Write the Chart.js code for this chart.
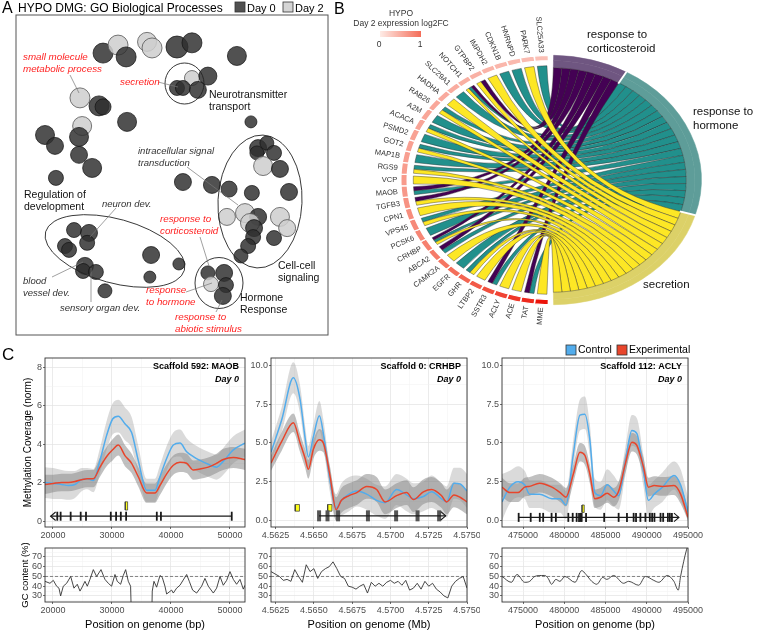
<!DOCTYPE html>
<html lang="en">
<head>
<meta charset="UTF-8">
<title>HYPO DMG: GO terms, gene chord and methylation coverage</title>
<script src="https://cdn.jsdelivr.net/npm/chart.js@4.4.1/dist/chart.umd.min.js"></script>
<style>
  html, body { margin: 0; padding: 0; background: #fff; }
  #page { position: relative; width: 757px; height: 632px; overflow: hidden; }
  #page canvas { position: absolute; }
</style>
</head>
<body>
<div id="page">
  <canvas id="goA" width="330" height="340" style="left:0;top:0"></canvas>
  <canvas id="chordB" width="427" height="340" style="left:330px;top:0"></canvas>
  <canvas id="covMaob" width="250" height="210" style="left:0;top:336px"></canvas>
  <canvas id="covCrhbp" width="230" height="210" style="left:250px;top:336px"></canvas>
  <canvas id="covAcly" width="277" height="210" style="left:480px;top:336px"></canvas>
  <canvas id="gcMaob" width="250" height="94" style="left:0;top:538px"></canvas>
  <canvas id="gcCrhbp" width="230" height="94" style="left:250px;top:538px"></canvas>
  <canvas id="gcAcly" width="277" height="94" style="left:480px;top:538px"></canvas>
</div>
<script>
// ---------- panel A : GO terms in semantic space (both axes 0-100)
const bubbleX = [27.9, 32.7, 35.3, 42.0, 43.6, 51.6, 56.4, 70.8, 56.4, 61.5, 51.6, 53.5, 58.3,
  20.5, 26.6, 27.9, 35.6, 75.3, 21.2, 20.2, 9.3, 12.5, 20.2, 24.4, 12.8, 53.5, 62.8,
  77.6, 80.4, 77.2, 82.7, 79.2, 84.6, 68.3, 75.6, 87.5, 67.6, 73.4, 77.6, 75.0, 84.6, 86.9, 76.3, 76.0, 82.7, 74.4, 72.1,
  18.6, 23.4, 22.8, 15.7, 17.0, 22.1, 21.5, 25.6, 43.3, 52.2, 42.9, 28.5,
  61.5, 66.7, 62.5, 67.3, 66.3];
const bubbleY = [88.1, 90.6, 86.9, 91.6, 89.7, 90.0, 91.3, 87.2, 80.3, 80.9, 77.2, 77.2, 76.6,
  74.1, 71.6, 71.3, 66.6, 66.6, 65.3, 61.9, 62.5, 59.1, 56.3, 52.2, 49.1, 47.8, 46.9,
  58.4, 60.0, 56.9, 56.9, 52.8, 51.9, 45.6, 44.4, 44.7, 36.9, 38.1, 36.9, 35.0, 36.9, 33.4, 33.4, 30.6, 30.3, 27.8, 24.7,
  32.8, 31.9, 28.8, 27.8, 26.6, 21.6, 20.0, 19.7, 25.0, 22.2, 18.1, 13.8,
  19.4, 19.4, 15.9, 15.6, 12.2];
const bubbleR = [10, 10, 10, 9.5, 10, 11, 10, 9.5, 7.5, 9, 7.5, 7.5, 8.5,
  10, 10, 8, 9.5, 6, 9.5, 9.5, 9.5, 8.5, 8.5, 9.5, 7.5, 8.5, 8.5,
  8.5, 7, 7, 7.5, 9.5, 8.5, 8, 7.5, 8.5, 8.5, 9.5, 8.5, 9.5, 9.5, 8.5, 8.5, 7.5, 7.5, 7.5, 7,
  7.5, 8.5, 7.5, 7.5, 7.5, 8.5, 7.5, 7.5, 8.5, 6, 6, 7,
  7, 8.5, 7.5, 7.5, 8.5];
const bubbleDay = [0, 2, 0, 2, 2, 0, 0, 0, 2, 0, 0, 0, 0,
  2, 0, 0, 0, 0, 2, 0, 0, 0, 0, 0, 0, 0, 0,
  0, 0, 0, 0, 2, 0, 0, 0, 0, 2, 2, 0, 2, 2, 2, 0, 0, 0, 0, 0,
  0, 0, 0, 0, 0, 0, 0, 0, 0, 0, 0, 0,
  0, 0, 2, 0, 0];

// ---------- panel B : genes (top to bottom) and their GO terms
const chordGenes = ['SLC25A33', 'PARK7', 'HNRNPD', 'CDKN1B', 'IMPDH2', 'GTPBP2', 'NOTCH1', 'SLC29A1', 'HADHA', 'RAB26',
  'A2M', 'ACACA', 'PSMD2', 'GOT2', 'MAP1B', 'RGS9', 'VCP', 'MAOB', 'TGFB3', 'CPN1', 'VPS45', 'PCSK6', 'CRHBP',
  'ABCA2', 'CAMK2A', 'EGFR', 'GHR', 'LTBP2', 'SSTR3', 'ACLY', 'ACE', 'TAT', 'MME'];
const chordLog2FC = [0.35, 0.38, 0.40, 0.42, 0.44, 0.46, 0.48, 0.50, 0.52, 0.54, 0.55, 0.56, 0.58, 0.60, 0.61, 0.62,
  0.64, 0.66, 0.70, 0.74, 0.77, 0.80, 0.84, 0.88, 0.93, 0.98, 1.05, 1.12, 1.20, 1.28, 1.36, 1.45, 1.60];
const chordMembership = ['H', 'S', 'H', 'H', 'S', 'CS', 'CHS', 'H', 'S', 'HS', 'H', 'HS', 'H', 'HS', 'H', 'HS', 'S',
  'CH', 'CS', 'S', 'HS', 'H', 'CHS', 'CH', 'S', 'H', 'HS', 'S', 'CH', 'S', 'S', 'CH', 'S'];
const chordTerms = ['response to corticosteroid', 'response to hormone', 'secretion'];
const chordTermCode = ['C', 'H', 'S'];

// ---------- panel C : scaffold 592 / MAOB (bp)
const maobPos = [18650, 20060, 21470, 22600, 23730, 24860, 25820, 26840, 27970, 29100, 30110, 31070, 32200, 33330, 34460,
  35880, 37290, 38140, 39270, 40400, 41530, 42660, 43790, 44920, 46330, 47740, 48870, 50570, 52550];
const maobCtrl = [2.0, 1.95, 1.9, 1.85, 1.9, 2.15, 2.2, 2.1, 3.15, 4.45, 5.3, 5.45, 5.05, 4.6, 3.15, 1.6, 1.6, 2.3, 3.25,
  3.95, 4.05, 3.6, 3.35, 3.15, 2.95, 2.8, 3.1, 3.7, 4.05];
const maobCtrlHi = [2.8, 2.75, 2.65, 2.6, 2.6, 2.75, 2.75, 2.7, 3.8, 5.2, 6.1, 6.3, 5.9, 5.4, 3.9, 2.2, 2.2, 2.9, 3.9, 4.6,
  4.75, 4.3, 4.0, 3.8, 3.6, 3.45, 3.8, 4.4, 4.75];
const maobCtrlLo = [1.2, 1.15, 1.15, 1.1, 1.2, 1.55, 1.65, 1.5, 2.5, 3.7, 4.5, 4.6, 4.2, 3.8, 2.4, 1.0, 1.0, 1.7, 2.6, 3.3,
  3.35, 2.9, 2.7, 2.5, 2.3, 2.15, 2.4, 3.0, 3.35];
const maobExp = [1.9, 1.95, 2.0, 2.0, 2.05, 2.15, 2.2, 2.2, 2.8, 3.35, 3.7, 3.95, 3.4, 3.0, 2.3, 1.45, 1.45, 1.85, 2.45, 2.9,
  3.05, 3.0, 2.65, 2.7, 2.8, 3.0, 3.2, 3.3, 3.2];
const maobExpHi = [2.4, 2.4, 2.45, 2.45, 2.5, 2.6, 2.65, 2.65, 3.3, 3.85, 4.25, 4.5, 3.95, 3.5, 2.8, 1.95, 1.95, 2.35, 2.95,
  3.4, 3.55, 3.5, 3.15, 3.2, 3.3, 3.5, 3.75, 3.85, 3.75];
const maobExpLo = [1.4, 1.5, 1.55, 1.55, 1.6, 1.7, 1.75, 1.75, 2.3, 2.85, 3.15, 3.4, 2.85, 2.5, 1.8, 0.95, 0.95, 1.35, 1.95,
  2.4, 2.55, 2.5, 2.15, 2.2, 2.3, 2.5, 2.65, 2.75, 2.65];
const maobGene = [19600, 50300];
const maobStrand = -1;
const maobExons = [20730, 21300, 23000, 24700, 25600, 29800, 30700, 31500, 32400, 37600, 38300, 50300];
const maobDmr = [[32250, 32650]];
const maobGcPos = [18650, 19490, 20060, 20620, 21020, 21300, 21750, 22320, 23000, 23560, 24120, 24580, 25030, 25420, 25820,
  26270, 26840, 27400, 28140, 28810, 29380, 29940, 30510, 30900, 31470, 31920, 32320, 32770, 33160, 33330, 36720, 36830,
  37120, 37570, 38140, 38530, 38980, 39270, 40110, 40400, 40960, 41530, 42660, 43110, 43670, 44350, 45200, 45760, 46330,
  47180, 47740, 48310, 48870, 49440, 50000, 50570, 51130, 51700, 52260, 52550];
const maobGc = [45, 43, 46, 40, 38, 30, 40, 43, 50, 38, 42, 35, 40, 45, 40, 47, 57, 50, 57, 47, 43, 40, 52, 45, 42, 51, 57,
  45, 40, 0, 0, 35, 45, 39, 51, 49, 40, 32, 36, 33, 38, 41, 52, 45, 36, 33, 40, 48, 40, 33, 38, 50, 41, 46, 55, 47, 42, 47,
  37, 41];

// ---------- panel C : scaffold 0 / CRHBP (Mb)
const crhbpPos = [4.5622, 4.5629, 4.56366, 4.5641, 4.56443, 4.56464, 4.56497, 4.56536, 4.56562, 4.56605, 4.56645, 4.5668,
  4.5673, 4.5678, 4.56845, 4.5691, 4.56965, 4.5704, 4.57106, 4.5715, 4.57215, 4.57269, 4.57334, 4.57367, 4.57415, 4.57455,
  4.5750];
const crhbpCtrl = [4.4, 6.5, 9.2, 7.8, 5.3, 4.1, 5.4, 6.75, 5.6, 2.6, 0.8, 1.3, 1.7, 1.9, 1.7, 1.3, 1.15, 2.0, 1.65, 1.4,
  1.55, 1.85, 1.4, 1.2, 2.4, 2.35, 1.9];
const crhbpCtrlHi = [5.1, 7.3, 10.2, 8.7, 6.1, 4.8, 6.2, 7.7, 6.5, 3.4, 1.7, 2.4, 2.8, 2.9, 2.7, 2.3, 2.2, 3.0, 2.7, 2.4,
  2.5, 2.9, 2.4, 2.2, 3.4, 3.4, 3.0];
const crhbpCtrlLo = [3.7, 5.7, 8.2, 6.9, 4.5, 3.4, 4.6, 5.8, 4.7, 1.8, 0.0, 0.3, 0.6, 0.9, 0.7, 0.3, 0.1, 1.0, 0.6, 0.4,
  0.6, 0.8, 0.4, 0.2, 1.4, 1.3, 0.8];
const crhbpExp = [3.7, 5.1, 6.3, 5.0, 4.0, 3.3, 4.6, 5.2, 5.0, 2.9, 0.7, 1.3, 1.6, 1.8, 2.2, 2.0, 1.2, 1.6, 1.8, 1.35,
  1.85, 2.0, 1.6, 1.2, 1.65, 1.5, 1.2];
const crhbpExpHi = [4.2, 5.7, 6.9, 5.6, 4.6, 3.9, 5.2, 5.9, 5.6, 3.5, 1.5, 2.1, 2.4, 2.6, 3.0, 2.8, 2.0, 2.4, 2.6, 2.15,
  2.65, 2.8, 2.4, 2.0, 2.45, 2.3, 2.0];
const crhbpExpLo = [3.2, 4.5, 5.7, 4.4, 3.4, 2.7, 4.0, 4.5, 4.4, 2.3, 0.0, 0.5, 0.8, 1.0, 1.4, 1.2, 0.4, 0.8, 1.0, 0.55,
  1.05, 1.2, 0.8, 0.4, 0.85, 0.7, 0.4];
const crhbpGene = [4.56534, 4.57361];
const crhbpStrand = 1;
const crhbpExons = [4.56534, 4.56589, 4.56658, 4.56853, 4.57037, 4.57177, 4.57318];
const crhbpDmr = [[4.56378, 4.56406], [4.56590, 4.56618]];
const crhbpGcPos = [4.5622, 4.56275, 4.563, 4.56325, 4.5635, 4.56375, 4.564, 4.56425, 4.5645, 4.56475, 4.565, 4.56525,
  4.5655, 4.56575, 4.566, 4.56625, 4.5665, 4.56675, 4.567, 4.56725, 4.5675, 4.56775, 4.568, 4.56825, 4.5685, 4.56875,
  4.569, 4.56925, 4.5695, 4.56975, 4.57, 4.57025, 4.5705, 4.57075, 4.571, 4.57125, 4.5715, 4.57175, 4.572, 4.57225,
  4.5725, 4.57275, 4.573, 4.57325, 4.5735, 4.57375, 4.574, 4.57425, 4.5745, 4.57475, 4.575];
const crhbpGc = [55, 50, 46, 47, 45, 57, 50, 44, 62, 55, 58, 48, 55, 58, 60, 65, 58, 50, 48, 40, 39, 37, 40, 42, 33, 44,
  40, 43, 40, 44, 46, 43, 45, 41, 46, 36, 38, 43, 37, 45, 40, 43, 37, 34, 30, 28, 40, 45, 48, 50, 38];

// ---------- panel C : scaffold 112 / ACLY (bp)
const aclyPos = [472450, 473400, 474400, 475200, 475800, 477000, 478500, 479500, 480200, 481100, 481900, 482500, 483100,
  483700, 484400, 485200, 486000, 486600, 487400, 488200, 488800, 489600, 490200, 490900, 491900, 493300, 494100, 495000];
const aclyCtrl = [1.2, 2.15, 2.5, 2.3, 1.7, 1.7, 1.4, 1.4, 1.0, 4.3, 6.8, 6.85, 5.2, 1.8, 1.6, 2.3, 1.9, 1.6, 3.8, 5.8,
  5.6, 3.2, 1.3, 1.7, 2.15, 2.9, 2.3, 0.55];
const aclyCtrlHi = [3.0, 3.2, 3.5, 3.2, 2.6, 2.6, 2.3, 2.3, 1.9, 5.2, 7.8, 8.0, 6.2, 2.7, 2.5, 3.3, 2.9, 2.5, 4.7, 6.8,
  6.6, 4.2, 2.3, 2.6, 3.1, 3.8, 3.3, 1.5];
const aclyCtrlLo = [0.0, 1.1, 1.5, 1.4, 0.8, 0.8, 0.5, 0.5, 0.1, 3.4, 5.8, 5.9, 4.2, 0.9, 0.7, 1.3, 0.9, 0.7, 2.9, 4.8,
  4.6, 2.2, 0.3, 0.8, 1.2, 2.0, 1.3, 0.0];
const aclyExp = [2.15, 1.8, 1.8, 2.15, 2.2, 2.4, 2.15, 1.8, 1.5, 3.0, 4.4, 4.2, 3.0, 1.4, 1.5, 1.75, 1.5, 1.9, 3.65, 5.05,
  4.85, 3.45, 2.15, 2.25, 2.2, 2.25, 1.7, 0.2];
const aclyExpHi = [2.75, 2.4, 2.4, 2.75, 2.8, 3.0, 2.75, 2.4, 2.1, 3.6, 5.0, 4.8, 3.6, 2.0, 2.1, 2.35, 2.1, 2.5, 4.25,
  5.65, 5.45, 4.05, 2.75, 2.85, 2.8, 2.85, 2.3, 0.8];
const aclyExpLo = [1.55, 1.2, 1.2, 1.55, 1.6, 1.8, 1.55, 1.2, 0.9, 2.4, 3.8, 3.6, 2.4, 0.8, 0.9, 1.15, 0.9, 1.3, 3.05,
  4.45, 4.25, 2.85, 1.55, 1.65, 1.6, 1.65, 1.1, 0.0];
const aclyGene = [474470, 493900];
const aclyStrand = 1;
const aclyExons = [474470, 475930, 477030, 477440, 478460, 478980, 480490, 481020, 481500, 481790, 482000, 482110, 482640,
  484840, 486590, 487600, 488410, 488700, 489230, 489840, 490370, 490650, 490930, 491670, 491990, 492560, 492800, 493050];
const aclyDmr = [[482150, 482420]];
const aclyGcPos = [472450, 473580, 474270, 475200, 475810, 476420, 477240, 477640, 478050, 478460, 478980, 479470, 480080,
  481300, 482110, 482640, 483330, 483940, 484670, 485160, 485980, 487200, 487800, 489020, 489840, 490850, 491460, 492480,
  493290, 493820, 494100, 494840, 495000];
const aclyGc = [50, 44, 52, 44, 45, 50, 51, 51, 48, 42, 47, 45, 50, 44, 56, 52, 45, 42, 49, 47, 51, 43, 45, 41, 50, 46, 44,
  51, 45, 36, 50, 78, 82];

// tick labels
const maobXTicks = [20000, 30000, 40000, 50000];
const crhbpXTicks = [4.5625, 4.565, 4.5675, 4.57, 4.5725, 4.575];
const aclyXTicks = [475000, 480000, 485000, 490000, 495000];
const covTicks8 = [0, 2, 4, 6, 8];
const covTicks10 = [0, 2.5, 5, 7.5, 10];
const gcTicks = [30, 40, 50, 60, 70];
const GC_REF = 50;

// ---------- shared style
const FONT = 'Arial, "Liberation Sans", Helvetica, sans-serif';
Chart.defaults.font.family = FONT;
Chart.defaults.plugins.legend.display = false;
Chart.defaults.plugins.tooltip.enabled = false;
const BASE = { responsive: false, animation: false, devicePixelRatio: 1, events: [] };
const BLUE = '#52ACEC', RED = '#E8452B';
const CTRL_BAND = 'rgba(140,140,140,0.32)', EXP_BAND = 'rgba(105,105,105,0.42)';
const INK = '#1a1a1a';

// ================= panel A
const goRings = [[184.5, 83.5, 19.5, 20.5, 0], [260, 201.5, 42, 66.5, 0.045], [115, 251, 72, 32, 0.27], [219, 283, 24, 25.5, 0]];
const goLeaders = [[70, 75, 79, 93], [158, 82, 178, 87], [187, 167, 238, 205], [116, 208, 90, 237], [52, 277, 83, 262],
  [91, 302, 91, 268], [200, 237, 209, 266], [186, 292, 212, 283], [216, 312, 222, 300]];
const RED_TXT = '#ff2222', GRAY_TXT = '#333';
const goNotes = [
  { t: ['small molecule', 'metabolic process'], x: 23, y: 57, c: RED_TXT, it: true, s: 9.8 },
  { t: ['secretion'], x: 120, y: 82, c: RED_TXT, it: true, s: 9.8 },
  { t: ['Neurotransmitter', 'transport'], x: 209, y: 95, c: '#111', s: 10.5 },
  { t: ['intracellular signal', 'transduction'], x: 138, y: 151, c: GRAY_TXT, it: true, s: 9.5 },
  { t: ['Regulation of', 'development'], x: 24, y: 195, c: '#111', s: 10.5 },
  { t: ['neuron dev.'], x: 102, y: 204, c: GRAY_TXT, it: true, s: 9.5 },
  { t: ['response to', 'corticosteroid'], x: 160, y: 219, c: RED_TXT, it: true, s: 9.8 },
  { t: ['Cell-cell', 'signaling'], x: 278, y: 266, c: '#111', s: 10.5 },
  { t: ['blood', 'vessel dev.'], x: 23, y: 281, c: GRAY_TXT, it: true, s: 9.5 },
  { t: ['response', 'to hormone'], x: 146, y: 290, c: RED_TXT, it: true, s: 9.8 },
  { t: ['Hormone', 'Response'], x: 240, y: 298, c: '#111', s: 10.5 },
  { t: ['sensory organ dev.'], x: 60, y: 308, c: GRAY_TXT, it: true, s: 9.5 },
  { t: ['response to', 'abiotic stimulus'], x: 175, y: 317, c: RED_TXT, it: true, s: 9.8 }
];
const DAY0 = 'rgba(48,48,48,0.84)', DAY2 = 'rgba(206,206,206,0.86)';

const goDeco = {
  id: 'goDeco',
  afterDraw(chart) {
    const { ctx, chartArea: a } = chart;
    ctx.save();
    ctx.strokeStyle = '#555'; ctx.lineWidth = 1;
    ctx.strokeRect(a.left, a.top, a.right - a.left, a.bottom - a.top);
    ctx.strokeStyle = '#222'; ctx.lineWidth = 0.9;
    goRings.forEach(e => { ctx.beginPath(); ctx.ellipse(e[0], e[1], e[2], e[3], e[4], 0, Math.PI * 2); ctx.stroke(); });
    ctx.strokeStyle = '#777'; ctx.lineWidth = 0.7;
    goLeaders.forEach(l => { ctx.beginPath(); ctx.moveTo(l[0], l[1]); ctx.lineTo(l[2], l[3]); ctx.stroke(); });
    ctx.textAlign = 'left'; ctx.textBaseline = 'middle';
    goNotes.forEach(n => {
      ctx.fillStyle = n.c;
      ctx.font = (n.it ? 'italic ' : '') + n.s + 'px ' + FONT;
      n.t.forEach((line, i) => ctx.fillText(line, n.x, n.y + i * 12));
    });
    // panel letter, title and day legend
    ctx.fillStyle = '#000';
    ctx.textBaseline = 'alphabetic';
    ctx.font = '16px ' + FONT; ctx.fillText('A', 2, 13);
    ctx.font = '12px ' + FONT; ctx.fillText('HYPO DMG: GO Biological Processes', 18, 12);
    [[DAY0, 'Day 0', 235], [DAY2, 'Day 2', 283]].forEach(([col, txt, x]) => {
      ctx.fillStyle = col; ctx.fillRect(x, 2, 10, 10);
      ctx.strokeStyle = '#333'; ctx.lineWidth = 0.8; ctx.strokeRect(x, 2, 10, 10);
      ctx.fillStyle = '#000'; ctx.font = '11px ' + FONT; ctx.fillText(txt, x + 12, 11.5);
    });
    ctx.restore();
  }
};

new Chart(document.getElementById('goA'), {
  type: 'bubble',
  data: {
    datasets: [{
      data: bubbleX.map((x, i) => ({ x, y: bubbleY[i], r: bubbleR[i] })),
      backgroundColor: c => bubbleDay[c.dataIndex] === 0 ? DAY0 : DAY2,
      borderColor: c => bubbleDay[c.dataIndex] === 0 ? 'rgba(20,20,20,0.9)' : '#555',
      borderWidth: 0.8
    }]
  },
  options: {
    ...BASE,
    layout: { autoPadding: false, padding: { left: 16, top: 15, right: 2, bottom: 5 } },
    scales: { x: { display: false, min: 0, max: 100 }, y: { display: false, min: 0, max: 100 } }
  },
  plugins: [goDeco]
});

// ================= panel B : chord diagram built on a doughnut
const CHORD_SY = 0.83;
const RIBBON = { C: '#440154', H: '#21908C', S: '#FDE725' };
const ARC_COLORS = ['#6f5681', '#5e9d99', '#dcd168'];
const CLEAR = 'rgba(0,0,0,0)';

function fcColor(v) {
  const stops = [[0, [254, 236, 231]], [1, [244, 108, 88]], [1.6, [236, 20, 10]]];
  let i = 0;
  while (i < stops.length - 2 && v > stops[i + 1][0]) i++;
  const [v0, c0] = stops[i], [v1, c1] = stops[i + 1];
  const f = Math.max(0, Math.min(1, (v - v0) / (v1 - v0)));
  return 'rgb(' + c0.map((c, k) => Math.round(c + (c1[k] - c) * f)).join(',') + ')';
}

const nGenes = chordGenes.length;
const nLinks = chordMembership.join('').length;
const termCounts = chordTermCode.map(c => chordMembership.filter(m => m.includes(c)).length);
const gapUnit = nGenes * 2 / 178;
const geneBottomUp = chordGenes.map((g, i) => i).reverse();
const geneSlot = gi => 4 + (nGenes - 1 - gi);
const slotValues = [...termCounts.map(n => n * nGenes / nLinks), gapUnit, ...geneBottomUp.map(() => 1), gapUnit];
const outerColors = [...ARC_COLORS, CLEAR, ...geneBottomUp.map(i => fcColor(chordLog2FC[i])), CLEAR];
const innerColors = [...ARC_COLORS, CLEAR, ...geneBottomUp.map(() => CLEAR), CLEAR];

const chordDeco = {
  id: 'chordDeco',
  beforeDatasetsDraw(chart) {
    const c = chart.getDatasetMeta(0).data[0];
    const ctx = chart.ctx;
    ctx.save();
    ctx.translate(0, c.y); ctx.scale(1, CHORD_SY); ctx.translate(0, -c.y);
  },
  afterDatasetsDraw(chart) {
    const ctx = chart.ctx;
    const outer = chart.getDatasetMeta(0).data, inner = chart.getDatasetMeta(1).data;
    const cx = outer[0].x, cy = outer[0].y;
    const rT = inner[0].innerRadius, rG = rT + 2.5, R = outer[0].outerRadius;
    const links = [];
    chordTermCode.forEach((code, k) => {
      const el = outer[k];
      const members = chordGenes.map((g, i) => i).filter(i => chordMembership[i].includes(code));
      const w = (el.endAngle - el.startAngle) / members.length;
      members.forEach((gi, j) => links.push({ code, gi, b0: el.startAngle + j * w, b1: el.startAngle + (j + 1) * w }));
    });
    chordGenes.forEach((g, gi) => {
      const el = outer[geneSlot(gi)];
      const own = ['S', 'H', 'C'].filter(c => chordMembership[gi].includes(c));
      const a0 = el.startAngle + 0.012, w = (el.endAngle - el.startAngle - 0.024) / own.length;
      own.forEach((c, j) => {
        const L = links.find(l => l.gi === gi && l.code === c);
        L.a0 = a0 + j * w; L.a1 = a0 + (j + 1) * w;
      });
    });
    ctx.lineWidth = 0.45; ctx.strokeStyle = '#2a2a2a';
    ['H', 'C', 'S'].forEach(code => {
      ctx.fillStyle = RIBBON[code];
      links.filter(l => l.code === code).forEach(l => {
        ctx.beginPath();
        ctx.arc(cx, cy, rG, l.a0, l.a1);
        ctx.quadraticCurveTo(cx, cy, cx + rT * Math.cos(l.b0), cy + rT * Math.sin(l.b0));
        ctx.arc(cx, cy, rT, l.b0, l.b1);
        ctx.quadraticCurveTo(cx, cy, cx + rG * Math.cos(l.a0), cy + rG * Math.sin(l.a0));
        ctx.closePath(); ctx.fill(); ctx.stroke();
      });
    });
    ctx.strokeStyle = '#fff'; ctx.lineWidth = 2;
    [outer[0].endAngle, outer[1].endAngle].forEach(t => {
      ctx.beginPath();
      ctx.moveTo(cx + (rT - 1) * Math.cos(t), cy + (rT - 1) * Math.sin(t));
      ctx.lineTo(cx + (R + 1) * Math.cos(t), cy + (R + 1) * Math.sin(t));
      ctx.stroke();
    });
    ctx.restore();
  },
  afterDraw(chart) {
    const ctx = chart.ctx;
    const outer = chart.getDatasetMeta(0).data;
    const cx = outer[0].x, cy = outer[0].y;
    ctx.save();
    ctx.fillStyle = '#333'; ctx.font = '7.5px ' + FONT;
    ctx.textAlign = 'right'; ctx.textBaseline = 'middle';
    chordGenes.forEach((g, gi) => {
      const el = outer[geneSlot(gi)];
      const t = (el.startAngle + el.endAngle) / 2, r = el.outerRadius + 3.5;
      const phi = Math.atan2(CHORD_SY * Math.sin(t), Math.cos(t));
      ctx.save();
      ctx.translate(cx + r * Math.cos(t), cy + CHORD_SY * r * Math.sin(t));
      ctx.rotate(phi + Math.PI);
      ctx.fillText(g, 0, 0);
      ctx.restore();
    });
    // term names
    ctx.fillStyle = '#111'; ctx.textAlign = 'left'; ctx.font = '11.5px ' + FONT;
    [[['response to', 'corticosteroid'], 257, 35], [['response to', 'hormone'], 363, 112], [['secretion'], 313, 285]]
      .forEach(([lines, x, y]) => lines.forEach((s, i) => ctx.fillText(s, x, y + i * 14)));
    // colour key
    ctx.fillStyle = '#333'; ctx.textAlign = 'center'; ctx.font = '8.5px ' + FONT;
    ctx.fillText('HYPO', 71, 14);
    ctx.fillText('Day 2 expression log2FC', 71, 24);
    const g = ctx.createLinearGradient(50, 0, 91, 0);
    g.addColorStop(0, fcColor(0)); g.addColorStop(1, fcColor(1));
    ctx.fillStyle = g; ctx.fillRect(50, 31, 41, 6);
    ctx.fillStyle = '#333';
    ctx.fillText('0', 49, 45); ctx.fillText('1', 90, 45);
    ctx.fillStyle = '#000'; ctx.textAlign = 'left'; ctx.textBaseline = 'alphabetic'; ctx.font = '16px ' + FONT;
    ctx.fillText('B', 4, 14);
    ctx.restore();
  }
};

new Chart(document.getElementById('chordB'), {
  type: 'doughnut',
  data: {
    labels: [...chordTerms, '', ...geneBottomUp.map(i => chordGenes[i]), ''],
    datasets: [
      {
        data: slotValues, weight: 6.5,
        backgroundColor: outerColors,
        borderColor: [...ARC_COLORS, CLEAR, ...geneBottomUp.map(() => '#fff'), CLEAR],
        borderWidth: [0.6, 0.6, 0.6, 0, ...geneBottomUp.map(() => 1.5), 0]
      },
      {
        data: slotValues, weight: 8.5,
        backgroundColor: innerColors,
        borderColor: innerColors,
        borderWidth: [0.6, 0.6, 0.6, 0, ...geneBottomUp.map(() => 0), 0]
      }
    ]
  },
  options: {
    ...BASE,
    rotation: 1, circumference: 360, cutout: '90%', spacing: 0,
    layout: { autoPadding: false, padding: { left: 70, top: 29, right: 55, bottom: 9 } }
  },
  plugins: [chordDeco]
});

// ================= panel C helpers
function axisCfg(o) {
  const step = o.majors[1] - o.majors[0];
  const minors = [o.majors[0] - step / 2, ...o.majors.map(v => v + step / 2)].filter(v => v > o.min && v < o.max);
  const isMajor = v => o.majors.some(m => Math.abs(m - v) < step * 1e-6);
  const maj = c => c.tick && isMajor(c.tick.value);
  return {
    type: 'linear', min: o.min, max: o.max,
    afterBuildTicks: s => {
      s.ticks = o.majors.concat(minors).filter(v => v >= o.min && v <= o.max).sort((a, b) => a - b).map(v => ({ value: v }));
    },
    afterFit: s => {
      if (o.width != null) s.width = o.width;
      if (o.height != null) s.height = o.height;
      s.paddingLeft = 0; s.paddingRight = 0; s.paddingTop = 0; s.paddingBottom = 0;
    },
    ticks: {
      autoSkip: false, maxRotation: 0, minRotation: 0, padding: 1, color: '#4d4d4d', font: { size: 9 },
      callback: v => isMajor(v) ? o.fmt(v) : ''
    },
    grid: {
      drawTicks: true, tickLength: 2, tickWidth: 0.7,
      color: c => maj(c) ? '#e2e2e2' : '#f0f0f0',
      lineWidth: c => maj(c) ? 0.7 : 0.5,
      tickColor: c => maj(c) ? '#333' : CLEAR
    },
    border: { display: false },
    title: o.title ? { display: true, text: o.title, color: '#000', font: { size: o.titleSize }, padding: o.titlePad } : { display: false }
  };
}

const panelDeco = {
  id: 'panelDeco',
  afterDraw(chart, args, o) {
    const { ctx, chartArea: a } = chart;
    ctx.save();
    ctx.strokeStyle = '#333'; ctx.lineWidth = 0.9;
    ctx.strokeRect(a.left, a.top, a.right - a.left, a.bottom - a.top);
    ctx.fillStyle = '#000'; ctx.textBaseline = 'middle';
    if (o.title) {
      ctx.textAlign = 'right';
      ctx.font = 'bold 9px ' + FONT; ctx.fillText(o.title, a.right - 6, a.top + 9);
      ctx.font = 'italic bold 9px ' + FONT; ctx.fillText('Day 0', a.right - 6, a.top + 22);
    }
    if (o.legend) {
      ctx.textAlign = 'left'; ctx.font = '10.5px ' + FONT;
      [[BLUE, 'Control', 86], [RED, 'Experimental', 137]].forEach(([col, txt, x]) => {
        ctx.fillStyle = col; ctx.fillRect(x, 9, 10, 10);
        ctx.strokeStyle = '#333'; ctx.lineWidth = 0.8; ctx.strokeRect(x, 9, 10, 10);
        ctx.fillStyle = '#000'; ctx.fillText(txt, x + 12, 14.5);
      });
    }
    if (o.letter) {
      ctx.textAlign = 'left'; ctx.textBaseline = 'alphabetic'; ctx.font = '17px ' + FONT;
      ctx.fillText(o.letter, 2, 24);
    }
    ctx.restore();
  }
};

// higher "order" is painted first, so bands sit under the mean lines and the gene track
const pts = (xs, ys) => xs.map((x, i) => ({ x, y: ys[i] }));
const bandSet = (xs, ys, col, fill) => ({ data: pts(xs, ys), borderWidth: 0, pointRadius: 0, fill, backgroundColor: col, cubicInterpolationMode: 'monotone', order: 5 });
const meanSet = (xs, ys, col, order) => ({ data: pts(xs, ys), borderColor: col, borderWidth: 1.5, pointRadius: 0, fill: false, cubicInterpolationMode: 'monotone', order });

function trackSets(t) {
  const y = t.y;
  const tip = t.strand > 0 ? t.span[1] : t.span[0];
  const back = tip - t.strand * t.arrow[0];
  const sets = [
    { data: t.span.map(x => ({ x, y })), borderColor: INK, borderWidth: 1.3, pointRadius: 0, fill: false, order: 0 },
    { data: [{ x: back, y: y + t.arrow[1] }, { x: tip, y }, { x: back, y: y - t.arrow[1] }], borderColor: INK, borderWidth: 1.1, pointRadius: 0, fill: false, order: 0 },
    { data: t.exons.map(x => ({ x, y })), showLine: false, pointStyle: 'line', pointRotation: 90, pointRadius: t.exonSize[0],
      pointBorderWidth: t.exonSize[1], pointBorderColor: t.exonColor, pointBackgroundColor: t.exonColor, order: 0 }
  ];
  t.dmr.forEach(([a, b]) => sets.push({
    data: [{ x: a, y: t.dmrY[0] }, { x: b, y: t.dmrY[0] }, { x: b, y: t.dmrY[1] }, { x: a, y: t.dmrY[1] }, { x: a, y: t.dmrY[0] }],
    fill: 'shape', backgroundColor: '#ffff1a', borderColor: '#333', borderWidth: 0.7, pointRadius: 0, tension: 0, order: 0
  }));
  return sets;
}

function coverageChart(id, p) {
  return new Chart(document.getElementById(id), {
    type: 'line',
    data: {
      datasets: [
        bandSet(p.pos, p.ctrlHi, CTRL_BAND, '+1'),
        bandSet(p.pos, p.ctrlLo, CTRL_BAND, false),
        bandSet(p.pos, p.expHi, EXP_BAND, '+1'),
        bandSet(p.pos, p.expLo, EXP_BAND, false),
        meanSet(p.pos, p.ctrl, BLUE, 2),
        meanSet(p.pos, p.exp, RED, 1),
        ...trackSets(p.track)
      ]
    },
    options: {
      ...BASE,
      layout: { autoPadding: false, padding: { top: 22, right: p.padRight, left: 0, bottom: 0 } },
      scales: {
        x: axisCfg({ min: p.xMin, max: p.xMax, majors: p.xTicks, fmt: p.xFmt, height: 19 }),
        y: axisCfg({ min: p.yMin, max: p.yMax, majors: p.yTicks, fmt: p.yFmt, width: p.yWidth, title: p.yTitle, titleSize: 10, titlePad: { top: 22, bottom: 0 } })
      },
      plugins: { panelDeco: { title: p.title, legend: p.legend, letter: p.letter } }
    },
    plugins: [panelDeco]
  });
}

function gcChart(id, p) {
  return new Chart(document.getElementById(id), {
    type: 'line',
    data: {
      datasets: [
        { data: pts(p.pos, p.gc), borderColor: '#333', borderWidth: 0.9, pointRadius: 0, fill: false, tension: p.tension, cubicInterpolationMode: p.tension ? 'monotone' : 'default' },
        { data: [{ x: p.xMin, y: GC_REF }, { x: p.xMax, y: GC_REF }], borderColor: '#777', borderWidth: 0.9, borderDash: [3, 2], pointRadius: 0, fill: false }
      ]
    },
    options: {
      ...BASE,
      layout: { autoPadding: false, padding: { top: 10, right: p.padRight, left: 0, bottom: 0 } },
      scales: {
        x: axisCfg({ min: p.xMin, max: p.xMax, majors: p.xTicks, fmt: p.xFmt, height: 30, title: p.xTitle, titleSize: 11, titlePad: { top: 0, bottom: 0.4 } }),
        y: axisCfg({ min: 23.8, max: 79.2, majors: gcTicks, fmt: v => String(v), width: p.yWidth, title: p.yTitle, titleSize: 9.5, titlePad: { top: 19.3, bottom: 0 } })
      },
      plugins: { panelDeco: {} }
    },
    plugins: [panelDeco]
  });
}

const intFmt = v => String(v);
const fix1 = v => v.toFixed(1);

coverageChart('covMaob', {
  pos: maobPos, ctrl: maobCtrl, ctrlHi: maobCtrlHi, ctrlLo: maobCtrlLo, exp: maobExp, expHi: maobExpHi, expLo: maobExpLo,
  track: { span: maobGene, strand: maobStrand, exons: maobExons, dmr: maobDmr, y: 0.25, dmrY: [0.57, 1.0], arrow: [850, 0.22], exonSize: [4.5, 1.8], exonColor: INK },
  xMin: 18650, xMax: 52550, xTicks: maobXTicks, xFmt: intFmt,
  yMin: -0.31, yMax: 8.47, yTicks: covTicks8, yFmt: intFmt, yWidth: 45, yTitle: 'Methylation Coverage (norm)',
  padRight: 5, title: 'Scaffold 592: MAOB', letter: 'C'
});
coverageChart('covCrhbp', {
  pos: crhbpPos, ctrl: crhbpCtrl, ctrlHi: crhbpCtrlHi, ctrlLo: crhbpCtrlLo, exp: crhbpExp, expHi: crhbpExpHi, expLo: crhbpExpLo,
  track: { span: crhbpGene, strand: crhbpStrand, exons: crhbpExons, dmr: crhbpDmr, y: 0.3, dmrY: [0.6, 1.03], arrow: [0.00032, 0.27], exonSize: [5.5, 4], exonColor: '#555' },
  xMin: 4.5622, xMax: 4.575, xTicks: crhbpXTicks, xFmt: v => v.toFixed(4),
  yMin: -0.42, yMax: 10.48, yTicks: covTicks10, yFmt: fix1, yWidth: 21,
  padRight: 13, title: 'Scaffold 0: CRHBP'
});
coverageChart('covAcly', {
  pos: aclyPos, ctrl: aclyCtrl, ctrlHi: aclyCtrlHi, ctrlLo: aclyCtrlLo, exp: aclyExp, expHi: aclyExpHi, expLo: aclyExpLo,
  track: { span: aclyGene, strand: aclyStrand, exons: aclyExons, dmr: aclyDmr, y: 0.2, dmrY: [0.52, 1.0], arrow: [600, 0.27], exonSize: [4.5, 1.8], exonColor: INK },
  xMin: 472450, xMax: 495000, xTicks: aclyXTicks, xFmt: intFmt,
  yMin: -0.42, yMax: 10.48, yTicks: covTicks10, yFmt: fix1, yWidth: 22,
  padRight: 69, title: 'Scaffold 112: ACLY', legend: true
});

gcChart('gcMaob', { pos: maobGcPos, gc: maobGc, tension: 0, xMin: 18650, xMax: 52550, xTicks: maobXTicks, xFmt: intFmt,
  xTitle: 'Position on genome (bp)', yWidth: 45, yTitle: 'GC content (%)', padRight: 5 });
gcChart('gcCrhbp', { pos: crhbpGcPos, gc: crhbpGc, tension: 0, xMin: 4.5622, xMax: 4.575, xTicks: crhbpXTicks, xFmt: v => v.toFixed(4),
  xTitle: 'Position on genome (Mb)', yWidth: 21, padRight: 13 });
gcChart('gcAcly', { pos: aclyGcPos, gc: aclyGc, tension: 0.35, xMin: 472450, xMax: 495000, xTicks: aclyXTicks, xFmt: intFmt,
  xTitle: 'Position on genome (bp)', yWidth: 22, padRight: 69 });
</script>
</body>
</html>
